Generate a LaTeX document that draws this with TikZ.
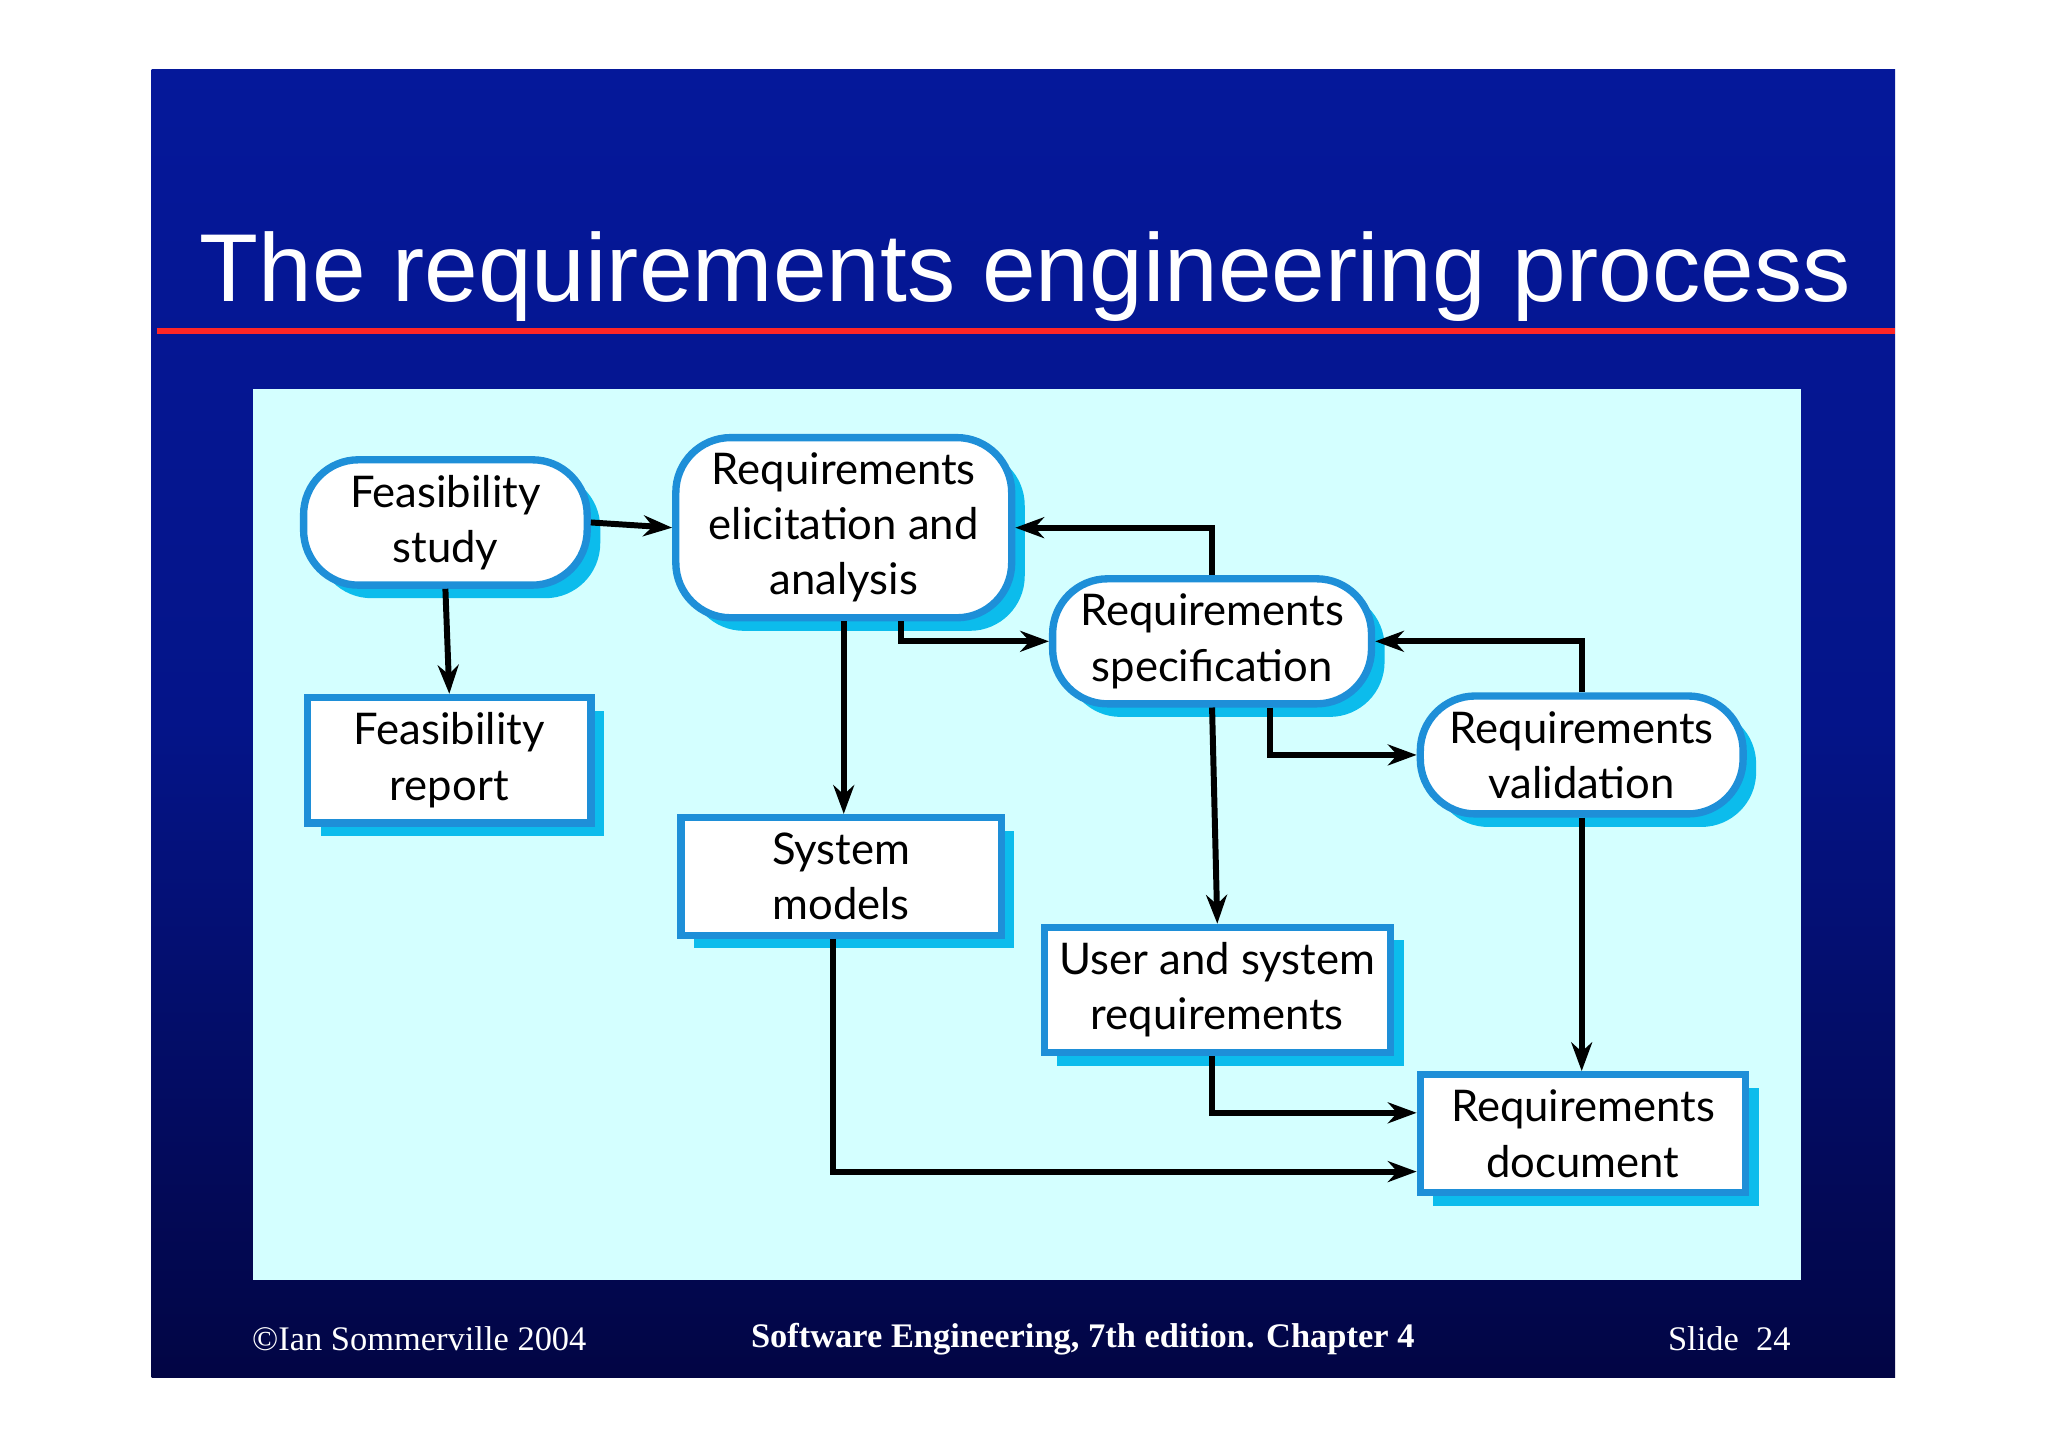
\documentclass[tikz,border=0pt]{standalone}
\usepackage{fontspec}
\setmainfont{Liberation Serif}
\newfontfamily\slidesans{Liberation Sans}
\newfontfamily\boxsans{Lato}
\usetikzlibrary{arrows.meta,calc,positioning,shadows}
\definecolor{slideblue}{HTML}{05189A}
\definecolor{slidenavy}{HTML}{020544}
\definecolor{panelcyan}{HTML}{D4FFFF}
\definecolor{boxedge}{HTML}{1E8FD8}
\definecolor{boxshade}{HTML}{0CBCEC}
\tikzset{
  stage/.style={draw=boxedge, line width=1.6pt, fill=white, align=center,
    font=\boxsans\fontsize{9.5}{12}\selectfont,
    general shadow={fill=boxshade, shadow xshift=0.1cm, shadow yshift=-0.1cm}},
  proc/.style={stage, rounded corners=0.42cm},
  doc/.style={stage},
  flow/.style={-{Stealth[length=0.22cm,width=0.16cm]}, line width=1.3pt, black}
}
\begin{document}
\begin{tikzpicture}[x=0.01cm,y=-0.01cm]
  \useasboundingbox (0,0) rectangle (1568,1108);
  \fill[white] (0,0) rectangle (1568,1108);
  \shade[top color=slideblue, bottom color=slidenavy, middle color=slideblue!80!slidenavy]
    (116,53) rectangle (1451,1055);
  \node[text=white, font=\slidesans\fontsize{21}{25}\selectfont] (title) at (785,212) {The requirements engineering process};
  \fill[red!85!white] (120,251) rectangle (1451,256);
  \fill[panelcyan] (194,298) rectangle (1379,980);

  % processes
  \node[proc, minimum width=2.17cm, minimum height=0.9cm] (feas) at (341,400) {Feasibility\\study};
  \node[proc, minimum width=2.57cm, minimum height=1.12cm] (elic) at (646,404) {Requirements\\elicitation and\\analysis};
  \node[proc, minimum width=2.44cm, minimum height=0.88cm] (spec) at (928,491) {Requirements\\specification};
  \node[proc, minimum width=2.47cm, minimum height=0.89cm] (valid) at (1211,578) {Requirements\\validation};

  % documents
  \node[doc, minimum width=2.17cm, minimum height=0.91cm] (report) at (344,582) {Feasibility\\report};
  \node[doc, minimum width=2.45cm, minimum height=0.87cm] (models) at (644,671) {System\\models};
  \node[doc, minimum width=2.55cm, minimum height=0.87cm] (userreq) at (932,758) {User and system\\requirements};
  \node[doc, minimum width=2.49cm, minimum height=0.89cm] (reqdoc) at (1212,868) {Requirements\\document};

  \draw[flow] (feas.east) -- (elic.west);
  \draw[flow] (feas.south) -- (report.north);
  \draw[flow] (elic.south) -- (models.north -| elic.south);
  \draw[flow] ($(elic.south)+(44,0)$) |- (spec.west);
  \draw[flow] (spec.north) |- (elic.east);
  \draw[flow] ($(spec.south)+(44,0)$) |- (valid.west);
  \draw[flow] (spec.south) -- (userreq.north);
  \draw[flow] (valid.north) |- (spec.east);
  \draw[flow] (valid.south) -- (reqdoc.north -| valid.south);
  \draw[flow] ($(userreq.south)+(-4,0)$) |- ($(reqdoc.west)+(0,-16)$);
  \draw[flow] ($(models.south)+(-6,0)$) |- ($(reqdoc.west)+(0,29)$);

  % footer
  \node[white, font=\fontsize{7.5}{9}\selectfont] (copy) at (321,1025) {\textcopyright Ian Sommerville 2004};
  \node[white, font=\bfseries\fontsize{7.5}{9}\selectfont] (book) at (829,1025) {Software Engineering, 7th edition. Chapter 4};
  \node[white, font=\fontsize{7.5}{9}\selectfont] (slide) at (1324,1025) {Slide\ \ 24};
\end{tikzpicture}
\end{document}
